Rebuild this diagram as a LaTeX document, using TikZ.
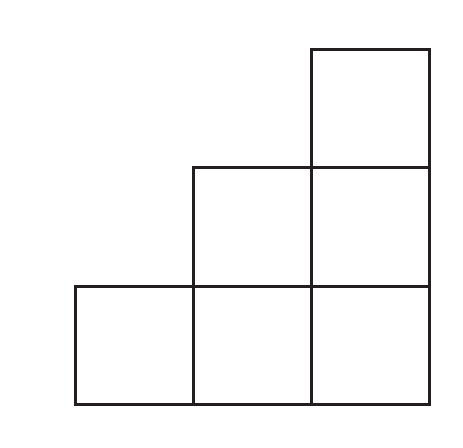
\documentclass[tikz,border=0pt]{standalone}
\definecolor{ink}{HTML}{231F20}
\begin{document}
\begin{tikzpicture}[x=1pt,y=-1pt,cell/.style={draw=ink,line width=3pt}]
\useasboundingbox (0,0) rectangle (463,447);
\fill[white] (0,0) rectangle (463,447);
% bottom row
\draw[cell] (75,286) rectangle (193,404);
\draw[cell] (193,286) rectangle (311.5,404);
\draw[cell] (311.5,286) rectangle (429.5,404);
% middle row
\draw[cell] (193,167) rectangle (311.5,286);
\draw[cell] (311.5,167) rectangle (429.5,286);
% top row
\draw[cell] (311.5,49) rectangle (429.5,167);
\end{tikzpicture}
\end{document}
